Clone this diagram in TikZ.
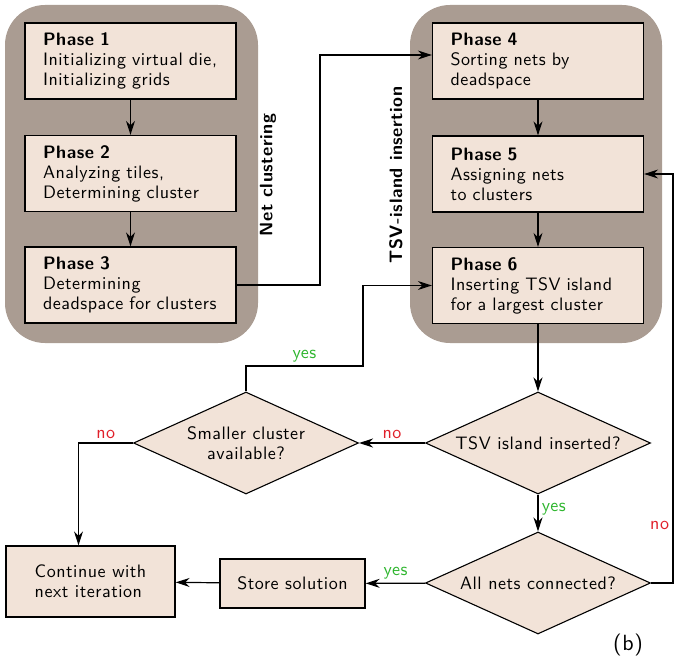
\documentclass[tikz,border=0pt]{standalone}
\usepackage{fontspec}
\setsansfont{lmsans10-regular.otf}[LetterSpace=3,BoldFont=lmsans10-bold.otf]
\usetikzlibrary{arrows.meta,shapes.geometric}
\definecolor{grpgray}{HTML}{AA9C92}
\definecolor{boxfill}{HTML}{F2E3D8}
\definecolor{yesgreen}{HTML}{2DB52D}
\definecolor{nored}{HTML}{E0202A}

\begin{document}
\begin{tikzpicture}[x=1pt,y=-1pt,
  every node/.style={font=\sffamily\fontsize{18}{20}\selectfont},
  phase/.style={draw,line width=1.3pt,fill=boxfill,minimum width=211pt,minimum height=76pt,text width=175pt,inner xsep=18pt,align=left},
  endbox/.style={draw,line width=1.3pt,fill=boxfill,align=left},
  decision/.style={draw,line width=1.1pt,fill=boxfill,shape=diamond,aspect=2.2,inner sep=0pt,minimum width=225pt,minimum height=102pt,align=center},
  grpbg/.style={fill=grpgray,rounded corners=40pt},
  arr/.style={line width=1.2pt,-{Stealth[length=14pt,width=9pt,inset=4.5pt]}},
  yesl/.style={text=yesgreen,font=\sffamily\fontsize{18}{20}\selectfont},
  nol/.style={text=nored,font=\sffamily\fontsize{18}{20}\selectfont}]
\useasboundingbox (0,0) rectangle (681,658);
% groups
\fill[grpbg] (5,5) rectangle (258,343);
\fill[grpbg] (410,5) rectangle (662,343);
\node[font=\sffamily\bfseries\fontsize{18}{20}\selectfont,rotate=90] (lblnc) at (268,175) {Net clustering};
\node[font=\sffamily\bfseries\fontsize{18}{20}\selectfont,rotate=90] (lbltsv) at (396,175) {TSV-island insertion};
% phases
\node[phase] (p1) at (130.5,61) {\textbf{Phase 1}\\Initializing virtual die,\\Initializing grids};
\node[phase] (p2) at (130.5,173.5) {\textbf{Phase 2}\\Analyzing tiles,\\Determining cluster};
\node[phase] (p3) at (130.5,285) {\textbf{Phase 3}\\Determining\\deadspace for clusters};
\node[phase] (p4) at (538,61) {\textbf{Phase 4}\\Sorting nets by\\deadspace};
\node[phase] (p5) at (538,174) {\textbf{Phase 5}\\Assigning nets\\to clusters};
\node[phase] (p6) at (538,285.5) {\textbf{Phase 6}\\Inserting TSV island\\for a largest cluster};
% decisions
\node[decision] (ins) at (538,443) {TSV island inserted?};
\node[decision] (small) at (246,443) {Smaller cluster\\available?};
\node[decision] (conn) at (538,583) {All nets connected?};
\node[endbox,minimum width=169pt,minimum height=71pt] (cont) at (90.5,581.5) {Continue with\\next iteration};
\node[endbox,minimum width=145pt,minimum height=49pt] (store) at (292.5,583.5) {Store solution};
\node[font=\sffamily\fontsize{22}{24}\selectfont] (lblb) at (628,645) {(b)};
% connectors
\draw[arr] (p1) -- (p2);
\draw[arr] (p2) -- (p3);
\draw[arr] (p3.east) -- (320,285) |- ([yshift=6pt]p4.west);
\draw[arr] (p4) -- (p5);
\draw[arr] (p5) -- (p6);
\draw[arr] (p6) -- (ins);
\draw[arr] (ins) -- node[nol,above]{no} (small);
\draw[arr] (small.north) |- node[yesl,above,pos=0.75]{yes} (363,366) |- (p6.west);
\draw[arr] (small.west) -| node[nol,above,pos=0.25]{no} ([xshift=-12pt]cont.north);
\draw[arr] (ins) -- node[yesl,right,pos=0.4]{yes} (conn);
\draw[arr] (conn) -- node[yesl,above]{yes} (store);
\draw[arr] (store) -- (cont);
\draw[arr] (conn.east) -- (673,583) |- node[nol,left,pos=0.07]{no} (p5.east);
\end{tikzpicture}
\end{document}
